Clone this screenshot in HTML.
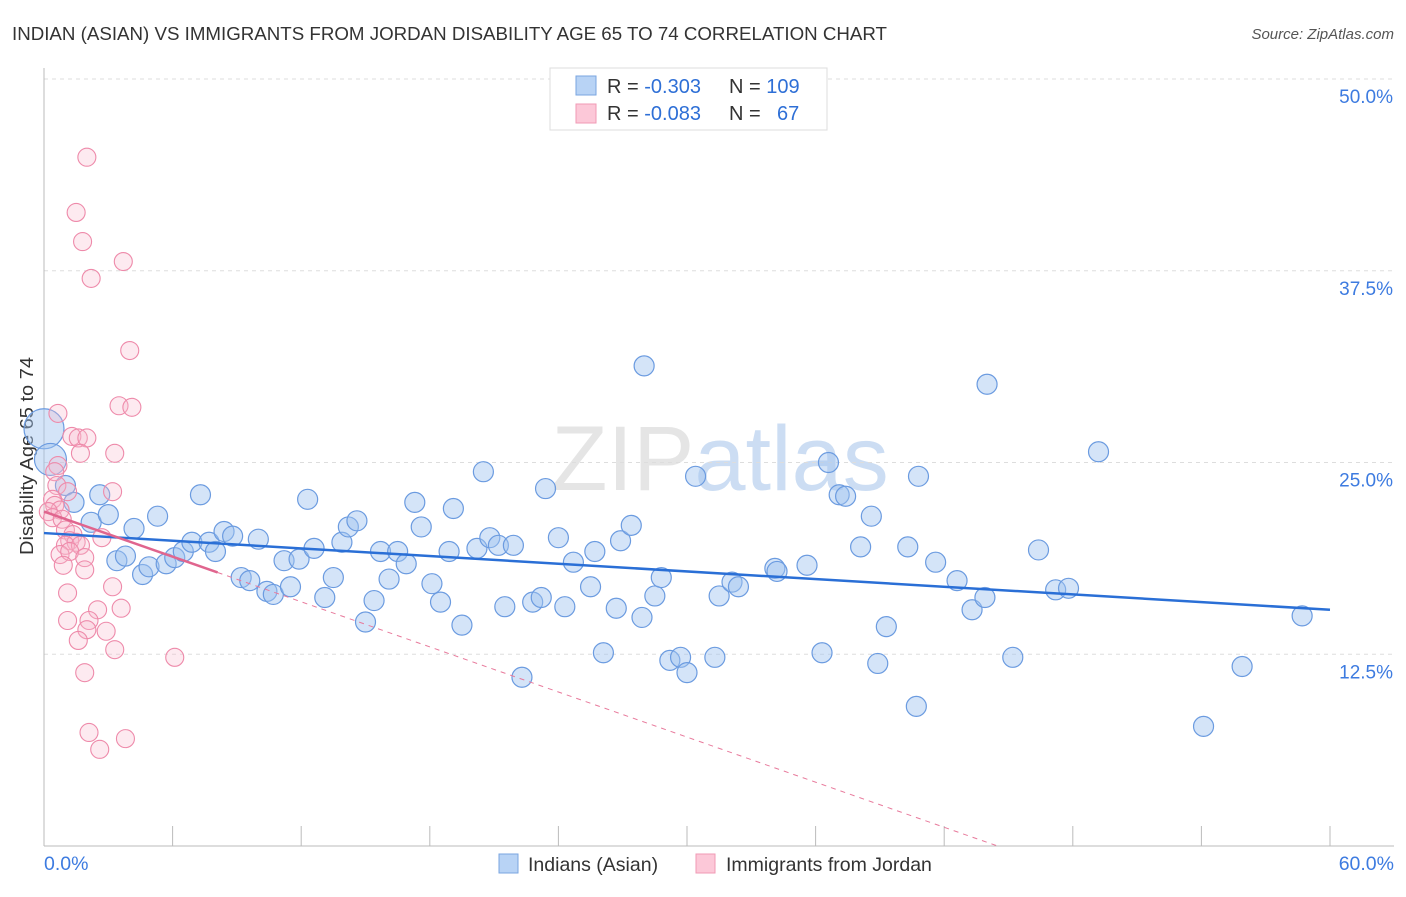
<!DOCTYPE html>
<html><head><meta charset="utf-8">
<style>
body{margin:0;background:#fff;font-family:"Liberation Sans",sans-serif;}
svg text{font-family:"Liberation Sans",sans-serif;}
</style></head>
<body>
<svg id="chart" width="1406" height="892" xmlns="http://www.w3.org/2000/svg">
<text x="12" y="40" font-size="18.5" fill="#333" textLength="875" lengthAdjust="spacingAndGlyphs">INDIAN (ASIAN) VS IMMIGRANTS FROM JORDAN DISABILITY AGE 65 TO 74 CORRELATION CHART</text>
<text x="1394" y="39" font-size="15" fill="#555" text-anchor="end" font-style="italic">Source: ZipAtlas.com</text>
<text transform="translate(33,456) rotate(-90)" font-size="18.5" fill="#333" text-anchor="middle" textLength="198" lengthAdjust="spacingAndGlyphs">Disability Age 65 to 74</text>
<text x="720" y="490" font-size="92" text-anchor="middle" fill="#ccc" opacity="0.5" font-family="Liberation Serif">ZIP<tspan fill="#9bbde8">atlas</tspan></text>
<g id="grid"></g><g id="axes"></g><g id="pts"></g><g id="trend"></g>
<g>
<rect x="550" y="68" width="277" height="62" fill="#fff" stroke="#ddd"/>
<rect x="576" y="76" width="20" height="19" fill="#b8d3f5" stroke="#7aa6e0"/>
<rect x="576" y="104" width="20" height="19" fill="#fcc8d8" stroke="#f09ab5"/>
<text x="607" y="93" font-size="20" fill="#333">R = <tspan fill="#2e6fd6">-0.303</tspan><tspan x="729">N = </tspan><tspan fill="#2e6fd6">109</tspan></text>
<text x="607" y="120" font-size="20" fill="#333">R = <tspan fill="#2e6fd6">-0.083</tspan><tspan x="729">N = </tspan><tspan fill="#2e6fd6" x="777">67</tspan></text>
</g>
<g>
<rect x="499" y="854" width="19" height="19" fill="#b8d3f5" stroke="#7aa6e0"/>
<text x="528" y="871" font-size="19.5" fill="#333">Indians (Asian)</text>
<rect x="696" y="854" width="19" height="19" fill="#fcc8d8" stroke="#f09ab5"/>
<text x="726" y="871" font-size="19.5" fill="#333">Immigrants from Jordan</text>
</g>
</svg>
<script>
const yTicks=[12.5,25,37.5,50];
const yTickLabels=["12.5%","25.0%","37.5%","50.0%"];
const xTickLabels=["0.0%","60.0%"];
const blueX=[0,0.3,1.0,1.4,2.6,2.2,3.0,3.4,3.8,4.2,4.6,4.9,5.3,5.7,6.1,6.5,6.9,7.3,7.7,8.0,8.4,8.8,9.2,9.6,10.0,10.4,10.7,11.2,11.5,11.9,12.3,12.6,13.1,13.5,13.9,14.2,14.6,15.0,15.4,15.7,16.1,16.5,16.9,17.3,17.6,18.1,18.5,18.9,19.1,19.5,20.2,20.5,20.8,21.2,21.5,21.9,22.3,22.8,23.2,23.4,24.0,24.3,24.7,25.5,25.7,26.1,26.7,26.9,27.4,27.9,28.0,28.5,28.8,29.2,29.7,30.0,30.4,31.3,31.5,32.1,32.4,34.1,34.2,35.6,36.3,36.6,37.1,37.4,38.1,38.6,38.9,39.3,40.3,40.7,40.8,41.6,42.6,43.3,43.9,44.0,45.2,46.4,47.2,47.8,49.2,54.1,55.9,58.7];
const blueY=[27.2,25.2,23.5,22.4,22.9,21.1,21.6,18.6,18.9,20.7,17.7,18.2,21.5,18.4,18.8,19.2,19.8,22.9,19.8,19.2,20.5,20.2,17.5,17.3,20.0,16.6,16.4,18.6,16.9,18.7,22.6,19.4,16.2,17.5,19.8,20.8,21.2,14.6,16.0,19.2,17.4,19.2,18.4,22.4,20.8,17.1,15.9,19.2,22.0,14.4,19.4,24.4,20.1,19.6,15.6,19.6,11.0,15.9,16.2,23.3,20.1,15.6,18.5,16.9,19.2,12.6,15.5,19.9,20.9,14.9,31.3,16.3,17.5,12.1,12.3,11.3,24.1,12.3,16.3,17.2,16.9,18.1,17.9,18.3,12.6,25.0,22.9,22.8,19.5,21.5,11.9,14.3,19.5,9.1,24.1,18.5,17.3,15.4,16.2,30.1,12.3,19.3,16.7,16.8,25.7,7.8,11.7,15.0];
const pinkX=[2.0,1.5,1.8,3.7,2.2,4.0,3.5,4.1,0.65,1.3,1.6,2.0,3.3,1.7,0.65,0.5,3.2,0.6,1.1,0.4,0.5,0.75,0.2,0.4,0.85,1.0,1.35,1.2,1.5,1.0,1.7,2.7,0.75,1.2,1.9,0.9,1.9,3.2,1.1,2.5,3.6,1.1,2.1,2.0,2.9,1.6,3.3,6.1,1.9,2.1,3.8,2.6];
const pinkY=[44.9,41.3,39.4,38.1,37.0,32.3,28.7,28.6,28.2,26.7,26.6,26.6,25.6,25.6,24.8,24.4,23.1,23.5,23.1,22.6,22.2,21.9,21.8,21.4,21.3,20.6,20.3,19.9,19.8,19.6,19.6,20.1,19.0,19.2,18.8,18.3,18.0,16.9,16.5,15.4,15.5,14.7,14.7,14.1,14.0,13.4,12.8,12.3,11.3,7.4,7.0,6.3];
const bigBlue=[[0,27.2,20],[0.3,25.2,16]];
const blueTrend=[20.4,15.4];
const pinkTrend=[21.8,-0.49];
const pinkSolidEnd=8.1;
const NS="http://www.w3.org/2000/svg";
const X0=44,X1=1330,Y0=846,Y50=79;
const sx=v=>X0+(v/60)*(X1-X0);
const sy=v=>Y0-(v/50)*(Y0-Y50);
function mk(tag,attrs,parent){const e=document.createElementNS(NS,tag);for(const k in attrs)e.setAttribute(k,attrs[k]);parent.appendChild(e);return e;}
const grid=document.getElementById('grid'),axes=document.getElementById('axes'),pts=document.getElementById('pts'),trend=document.getElementById('trend');
yTicks.forEach((t,i)=>{
 const l=mk('line',{x1:X0,x2:1394,y1:sy(t),y2:sy(t),stroke:'#ddd','stroke-dasharray':'4,4'},grid);
 
 
 const tx=mk('text',{x:1393,y:sy(t)+24,'font-size':19,fill:'#3d7be0','text-anchor':'end'},axes);
 tx.textContent=yTickLabels[i];
 
 
});
const ya=mk('line',{x1:X0,x2:X0,y1:68,y2:Y0,stroke:'#bbb'},axes);


const xa=mk('line',{x1:X0,x2:1394,y1:Y0,y2:Y0,stroke:'#bbb'},axes);


for(let i=0;i<=10;i++){const v=i*6;const t=mk('line',{x1:sx(v),x2:sx(v),y1:826,y2:Y0,stroke:'#bbb'},axes);
 
 }
[[0,'start',44],[60,'end',1394]].forEach((a,i)=>{const t=mk('text',{x:a[2],y:870,'font-size':19.5,fill:'#3d7be0','text-anchor':a[1]},axes);t.textContent=xTickLabels[i];
 
 });
blueX.forEach((x,i)=>{let r=10;bigBlue.forEach(b=>{if(b[0]===x&&b[1]===blueY[i])r=b[2];});
 const c=mk('circle',{cx:sx(x),cy:sy(blueY[i]),r:r,fill:'rgba(160,196,240,0.45)',stroke:'#6b9be0','stroke-width':1.2},pts);
 
 });
pinkX.forEach((x,i)=>{const c=mk('circle',{cx:sx(x),cy:sy(pinkY[i]),r:9,fill:'rgba(250,185,205,0.3)',stroke:'#ee8aaa','stroke-width':1.1},pts);
 
 });
const bl=mk('line',{x1:sx(0),y1:sy(blueTrend[0]),x2:sx(60),y2:sy(blueTrend[1]),stroke:'#2a6fd6','stroke-width':2.5},trend);


const pf=x=>pinkTrend[0]+pinkTrend[1]*x;
const xEnd=-pinkTrend[0]/pinkTrend[1];
const pd=mk('line',{x1:sx(pinkSolidEnd),y1:sy(pf(pinkSolidEnd)),x2:sx(xEnd),y2:sy(0),stroke:'#e87a9c','stroke-width':1,'stroke-dasharray':'5,5'},trend);


const ps=mk('line',{x1:sx(0),y1:sy(pf(0)),x2:sx(pinkSolidEnd),y2:sy(pf(pinkSolidEnd)),stroke:'#e0658e','stroke-width':2.5},trend);


</script>
</body></html>
